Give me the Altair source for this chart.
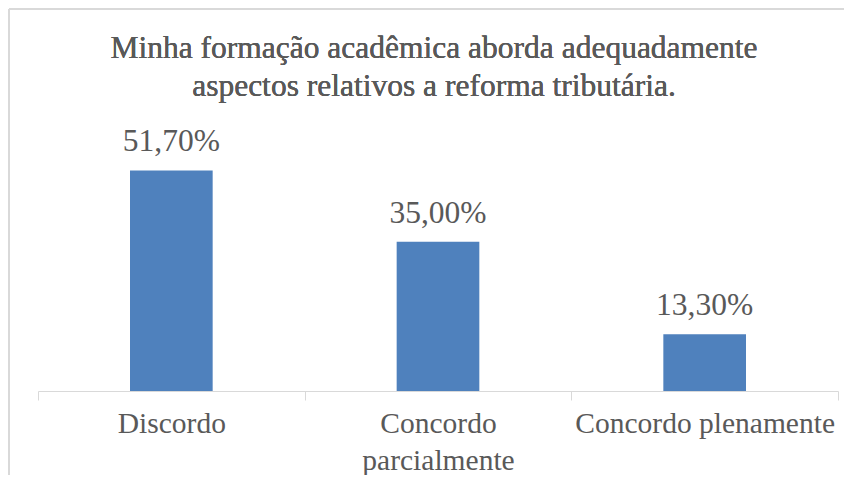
import altair as alt
import pandas as pd

title_lines = ["Minha formação acadêmica aborda adequadamente", "aspectos relativos a reforma tributária."]
categories = ["Discordo", "Concordo parcialmente", "Concordo plenamente"]
values = [51.70, 35.00, 13.30]
labels = [f"{v:.2f}".replace(".", ",") + "%" for v in values]

df = pd.DataFrame({"cat": categories, "val": values, "lab": labels})

FONT = "Liberation Serif"
GRAY = "#595959"
BORDER = "#d9d9d9"

x = alt.X("cat:N", sort=categories, title=None,
          scale=alt.Scale(paddingInner=0, paddingOuter=0),
          axis=alt.Axis(labelAngle=0, labelFont=FONT, labelFontSize=29.5, labelColor=GRAY,
                        domainColor=BORDER, tickColor=BORDER, tickSize=9, tickBand="extent",
                        labelPadding=9, labelLineHeight=37, labelLimit=0,
                        labelExpr="datum.label == 'Concordo parcialmente' ? ['Concordo', 'parcialmente'] : datum.label"))
y = alt.Y("val:Q", scale=alt.Scale(domain=[0, 60]), axis=None)

base = alt.Chart(df)
bars = base.mark_bar(color="#4F81BD", width=alt.RelativeBandSize(0.31)).encode(x=x, y=y)
text = base.mark_text(font=FONT, fontSize=31.5, color=GRAY, baseline="alphabetic", dy=-19).encode(
    x=x, y=y, text="lab:N")

title = base.mark_text(font=FONT, fontSize=31.5, color=GRAY, baseline="alphabetic",
                       align="center", lineHeight=38).encode(
    x=alt.value(396), y=alt.value(-77), text=alt.value(title_lines))

border_top = base.mark_rule(color=BORDER, strokeWidth=2).encode(
    x=alt.value(-29), x2=alt.value(820), y=alt.value(-126))
border_left = base.mark_rule(color=BORDER, strokeWidth=2).encode(
    x=alt.value(-29), y=alt.value(-126), y2=alt.value(360))

chart = alt.layer(border_top, border_left, bars, text, title).properties(
    width=800, height=256,
    autosize=alt.AutoSizeParams(type="none"),
    padding={"left": 30, "top": 127, "right": 6, "bottom": 84},
).configure_view(stroke=None)

chart.save("out.html", embed_options={"renderer": "svg", "actions": False})
